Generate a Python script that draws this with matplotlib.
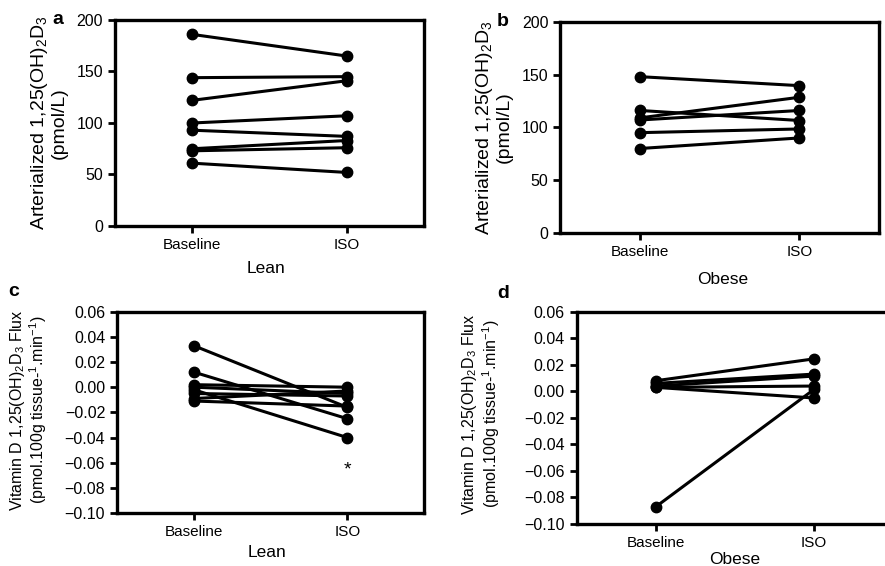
import matplotlib
matplotlib.use("Agg")
import matplotlib.pyplot as plt

plt.rcParams['font.family'] = ['Liberation Sans', 'DejaVu Sans']
plt.rcParams['mathtext.fontset'] = 'custom'
plt.rcParams['mathtext.rm'] = 'Liberation Sans'
plt.rcParams['mathtext.it'] = 'Liberation Sans'

groups = ['Baseline', 'ISO']

# panel a - lean, arterialized
lean_art_base = [186, 144, 122, 100, 93, 75, 73, 61]
lean_art_iso = [165, 145, 141, 107, 87, 83, 76, 52]

# panel b - obese, arterialized
obese_art_base = [148, 116, 109, 107, 95, 80]
obese_art_iso = [139.5, 106.5, 128.5, 116, 98.5, 90]

# panel c - lean, flux
lean_flux_base = [0.033, 0.012, 0.002, 0.000, -0.002, -0.005, -0.009, -0.011]
lean_flux_iso = [-0.016, -0.025, 0.000, -0.005, -0.040, -0.007, -0.003, -0.015]

# panel d - obese, flux
obese_flux_base = [0.008, 0.006, 0.004, 0.003, 0.003, -0.087]
obese_flux_iso = [0.0245, 0.013, 0.0115, -0.005, 0.004, 0.0015]

art_label = 'Arterialized 1,25(OH)$_2$D$_3$\n(pmol/L)'
flux_label = 'Vitamin D 1,25(OH)$_2$D$_3$ Flux\n(pmol.100g tissue-$^{1}$.min$^{-1}$)'

fig = plt.figure(figsize=(8.85, 5.66), dpi=100)


def panel(rect, base, iso, ylim, yticks, yfmt, ylab, ylab_fs, ylab_xy, xlab, xlab_xy):
    ax = fig.add_axes(rect)
    for b, i in zip(base, iso):
        ax.plot([0, 1], [b, i], '-o', color='black', lw=2.2, ms=7.5, clip_on=False)
    ax.set_xlim(-0.5, 1.5)
    ax.set_ylim(*ylim)
    ax.set_xticks([0, 1])
    ax.set_xticklabels(groups, fontsize=11)
    ax.set_yticks(yticks)
    ax.set_yticklabels([yfmt.format(v).replace('-', '\u2212') for v in yticks], fontsize=11.5)
    for s in ax.spines.values():
        s.set_linewidth(2.4)
    ax.tick_params(width=2, length=5, direction='out')
    ax.set_ylabel(ylab, fontsize=ylab_fs, linespacing=1.05)
    ax.yaxis.set_label_coords(*ylab_xy)
    ax.set_xlabel(xlab, fontsize=12.5)
    ax.xaxis.set_label_coords(*xlab_xy)
    return ax


flux_ticks = [-0.10, -0.08, -0.06, -0.04, -0.02, 0.00, 0.02, 0.04, 0.06]

ax_a = panel([0.130, 0.6007, 0.349, 0.364], lean_art_base, lean_art_iso,
             (0, 200), [0, 50, 100, 150, 200], '{:.0f}', art_label, 14,
             (-0.152, 0.5), 'Lean', (0.49, -0.17))
ax_b = panel([0.633, 0.5883, 0.3605, 0.3733], obese_art_base, obese_art_iso,
             (0, 200), [0, 50, 100, 150, 200], '{:.0f}', art_label, 14,
             (-0.15, 0.5), 'Obese', (0.51, -0.185))
ax_c = panel([0.1322, 0.0936, 0.3469, 0.3557], lean_flux_base, lean_flux_iso,
             (-0.10, 0.06), flux_ticks, '{:.2f}', flux_label, 11.5,
             (-0.22, 0.512), 'Lean', (0.49, -0.16))
ax_d = panel([0.6516, 0.0742, 0.3577, 0.375], obese_flux_base, obese_flux_iso,
             (-0.10, 0.06), flux_ticks, '{:.2f}', flux_label, 11.5,
             (-0.236, 0.518), 'Obese', (0.5, -0.13))

ax_c.text(1, -0.0656, '*', ha='center', va='center', fontsize=14)

fig.text(58 / 885, 1 - 20 / 566, 'a', fontsize=14, fontweight='bold', ha='center', va='center')
fig.text(503 / 885, 1 - 22 / 566, 'b', fontsize=14, fontweight='bold', ha='center', va='center')
fig.text(14 / 885, 1 - 292 / 566, 'c', fontsize=14, fontweight='bold', ha='center', va='center')
fig.text(503 / 885, 1 - 293 / 566, 'd', fontsize=14, fontweight='bold', ha='center', va='center')

fig.savefig('out.png', dpi=100)
